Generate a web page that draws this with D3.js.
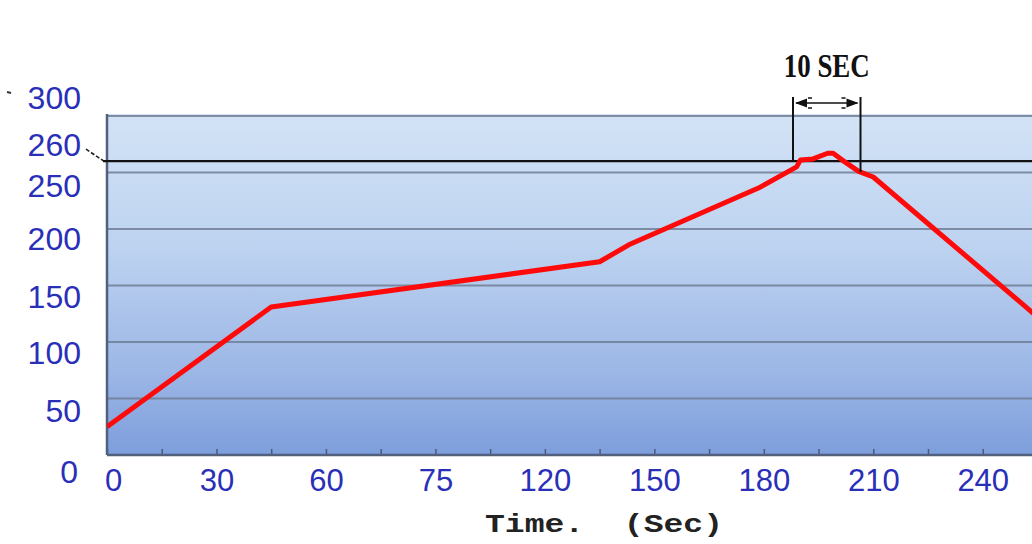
<!DOCTYPE html>
<html>
<head>
<meta charset="utf-8">
<script src="https://cdn.jsdelivr.net/npm/d3@7"></script>
<style>
  html, body { margin: 0; padding: 0; background: #ffffff; }
  svg { display: block; }
</style>
</head>
<body>
<svg id="chart" width="1032" height="544"></svg>
<script>
// ---- data ----
const time = [0, 45, 135, 143, 179, 189, 190, 193.5, 197.5, 199, 201.5, 206, 210, 254];
const temp = [25, 131, 171, 186, 237, 255, 261, 262, 267, 267, 261, 251, 246, 125];
const timeTicks = [0, 30, 60, 90, 120, 150, 180, 210, 240];
const timeTickLabels = ["0", "30", "60", "75", "120", "150", "180", "210", "240"];
const minorTimeTicks = [15, 45, 75, 105, 135, 165, 195, 225];
const tempGrid = [50, 100, 150, 200, 250, 300];
const tempTickValues = [0, 50, 100, 150, 200, 250, 260, 300];
const tempTickLabels = ["0", "50", "100", "150", "200", "250", "260", "300"];
const markLevel = 260;
const windowTimes = [188, 206.5];
const windowLabel = "10 SEC";
const xTitle = "Time.  (Sec)";

// ---- layout ----
const svg = d3.select("#chart");
const pLeft = 107, pRight = 1032, pTop = 116, pBottom = 455;
const x = d3.scaleLinear().domain([0, 253.5]).range([pLeft, pRight]);
const y = d3.scaleLinear().domain([0, 300]).range([pBottom, pTop]);

const defs = svg.append("defs");
const grad = defs.append("linearGradient").attr("id", "bg").attr("x1", 0).attr("y1", 0).attr("x2", 0).attr("y2", 1);
grad.append("stop").attr("offset", "0%").attr("stop-color", "#d3e3f6");
grad.append("stop").attr("offset", "40%").attr("stop-color", "#bcd2f0");
grad.append("stop").attr("offset", "75%").attr("stop-color", "#9db7e6");
grad.append("stop").attr("offset", "100%").attr("stop-color", "#7d9edc");
defs.append("clipPath").attr("id", "plotclip").append("rect")
  .attr("x", pLeft).attr("y", pTop - 2).attr("width", pRight - pLeft).attr("height", pBottom - pTop + 4);

svg.append("rect").attr("x", pLeft).attr("y", pTop - 2).attr("width", pRight - pLeft).attr("height", pBottom - pTop + 2)
  .attr("fill", "url(#bg)");

// gridlines
svg.append("g").selectAll("line").data(tempGrid).join("line")
  .attr("x1", pLeft).attr("x2", pRight)
  .attr("y1", d => y(d)).attr("y2", d => y(d))
  .attr("stroke", "#717f96").attr("stroke-width", 2.2).attr("opacity", 0.85);

// x axis ticks (inward)
const xAxisTicks = d3.axisBottom(x).tickValues(timeTicks.concat(minorTimeTicks)).tickSize(-6).tickFormat("");
const gx = svg.append("g").attr("transform", `translate(0,${pBottom})`).call(xAxisTicks);
gx.select(".domain").remove();
gx.selectAll(".tick line").attr("stroke", "#4a5a78").attr("stroke-width", 1.5);

// plot frame (left + bottom)
svg.append("line").attr("x1", pLeft).attr("x2", pLeft).attr("y1", pTop - 2).attr("y2", pBottom)
  .attr("stroke", "#51617d").attr("stroke-width", 2.5);
svg.append("line").attr("x1", pLeft).attr("x2", pRight).attr("y1", pBottom).attr("y2", pBottom)
  .attr("stroke", "#51617d").attr("stroke-width", 2.5);

// x labels
const xLab = d3.axisBottom(x).tickValues(timeTicks).tickSize(0)
  .tickFormat((d, i) => timeTickLabels[i]).tickPadding(14);
const gxl = svg.append("g").attr("transform", `translate(0,${pBottom})`).call(xLab);
gxl.select(".domain").remove();
gxl.selectAll("text").attr("font-family", "Liberation Sans, Arial, sans-serif")
  .attr("font-size", 31).attr("fill", "#2a2fb8");
gxl.selectAll(".tick").filter(d => d === 0).select("text").attr("dx", 6);

// y labels (as printed on the original, slightly offset from gridlines)
const labelShift = {0: 17, 50: 13, 100: 11, 150: 12, 200: 10, 250: 14, 260: -16, 300: -18};
const yLab = d3.axisLeft(y).tickValues(tempTickValues).tickSize(0)
  .tickFormat((d, i) => tempTickLabels[i]).tickPadding(0);
const gyl = svg.append("g").attr("transform", `translate(${pLeft - 26},0)`).call(yLab);
gyl.select(".domain").remove();
gyl.selectAll("text").attr("font-family", "Liberation Sans, Arial, sans-serif")
  .attr("font-size", 32).attr("fill", "#2a2fb8")
  .attr("y", d => labelShift[d]);
gyl.selectAll(".tick").filter(d => d === 0).select("text").attr("dx", -3);

// leader from 260 label to level line
svg.append("line").attr("x1", pLeft - 21).attr("y1", y(markLevel) - 12)
  .attr("x2", pLeft - 3).attr("y2", y(markLevel))
  .attr("stroke", "#222").attr("stroke-width", 1.6).attr("stroke-dasharray", "4,2");
svg.append("line").attr("x1", 7).attr("x2", 11).attr("y1", 92).attr("y2", 93)
  .attr("stroke", "#333").attr("stroke-width", 2);

// level line at 260
svg.append("line").attr("x1", pLeft - 4).attr("x2", pRight)
  .attr("y1", y(markLevel)).attr("y2", y(markLevel))
  .attr("stroke", "#111").attr("stroke-width", 2.2);

// red curve
const line = d3.line().x((d, i) => x(time[i])).y((d, i) => y(temp[i]));
svg.append("path").datum(temp).attr("clip-path", "url(#plotclip)")
  .attr("d", line).attr("fill", "none").attr("stroke", "#ff0a0a")
  .attr("stroke-width", 5).attr("stroke-linejoin", "round");

// 10 sec window annotation
const wTop = 97;
const curveAt = t => d3.scaleLinear().domain(time).range(temp)(t);
svg.append("line").attr("x1", x(windowTimes[0])).attr("x2", x(windowTimes[0]))
  .attr("y1", wTop).attr("y2", y(markLevel)).attr("stroke", "#111").attr("stroke-width", 2);
svg.append("line").attr("x1", x(windowTimes[1])).attr("x2", x(windowTimes[1]))
  .attr("y1", wTop).attr("y2", y(curveAt(windowTimes[1]))).attr("stroke", "#111").attr("stroke-width", 2);

const ay = 103;
const xa = x(windowTimes[0]), xb = x(windowTimes[1]);
svg.append("line").attr("x1", xa + 3).attr("x2", xb - 3).attr("y1", ay).attr("y2", ay)
  .attr("stroke", "#111").attr("stroke-width", 1.6);
svg.append("path").attr("d", `M${xa + 2},${ay} L${xa + 14},${ay - 4.5} L${xa + 14},${ay + 4.5} Z`).attr("fill", "#111");
svg.append("path").attr("d", `M${xb - 2},${ay} L${xb - 14},${ay - 4.5} L${xb - 14},${ay + 4.5} Z`).attr("fill", "#111");
[xa + 17, xb - 17].forEach(px => {
  svg.append("line").attr("x1", px - 2).attr("x2", px + 2).attr("y1", ay - 5).attr("y2", ay - 5).attr("stroke", "#111").attr("stroke-width", 1.5);
  svg.append("line").attr("x1", px - 2).attr("x2", px + 2).attr("y1", ay + 5).attr("y2", ay + 5).attr("stroke", "#111").attr("stroke-width", 1.5);
});

svg.append("text").attr("x", (xa + xb) / 2).attr("y", 77)
  .attr("text-anchor", "middle")
  .attr("font-family", "Liberation Serif, Times New Roman, serif")
  .attr("font-weight", "bold").attr("font-size", 34)
  .attr("textLength", 86).attr("lengthAdjust", "spacingAndGlyphs")
  .attr("fill", "#111").text(windowLabel);

// x axis title
svg.append("text").attr("x", 485).attr("y", 532)
  .attr("font-family", "Liberation Mono, Courier New, monospace")
  .attr("font-weight", "bold").attr("font-size", 26)
  .attr("textLength", 238).attr("lengthAdjust", "spacingAndGlyphs")
  .style("white-space", "pre")
  .attr("fill", "#222").text(xTitle);
</script>
</body>
</html>
